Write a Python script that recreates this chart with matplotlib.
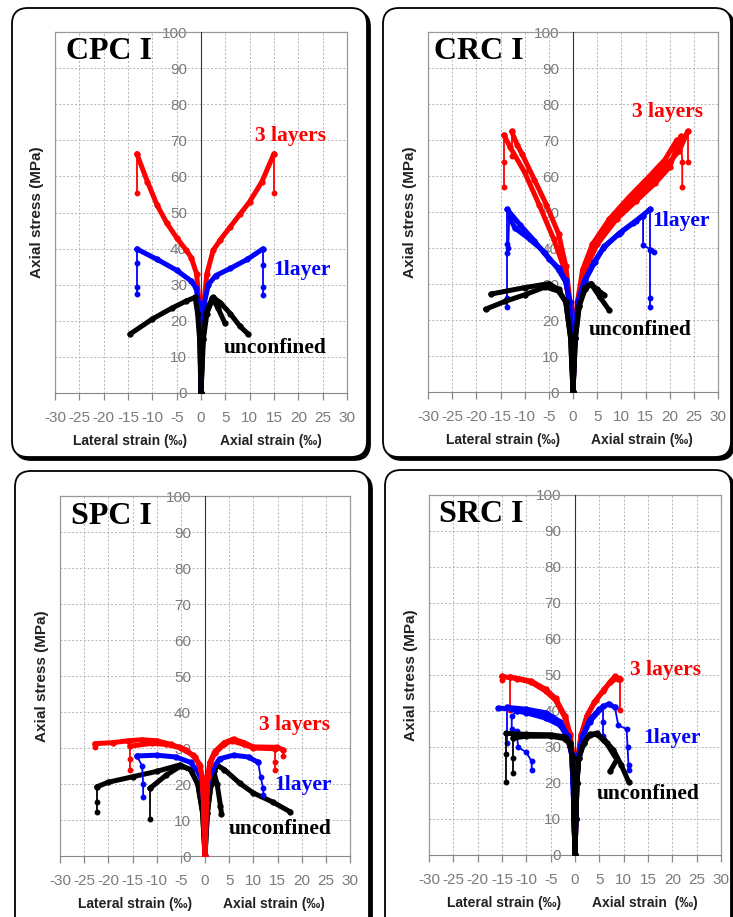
import matplotlib
matplotlib.use("Agg")
import matplotlib.pyplot as plt
from matplotlib.patches import FancyBboxPatch
from matplotlib.transforms import IdentityTransform

plt.rcParams.update({
    "font.family": "Liberation Sans",
    "axes.unicode_minus": False,
})

W, H = 733, 917

# ---------------------------------------------------------------------------
# Data (strain in per mille, stress in MPa)
# each curve: (x values, y values); *_TAILS are the thin post-peak drops
# ---------------------------------------------------------------------------

CPC_RED = [
    ([0, -0.2, -0.4, -0.9, -2, -3, -5, -7, -9, -11, -13.2],
     [0, 15, 25, 33, 37.5, 39.5, 43, 47, 52, 58.5, 66.3]),
    ([0, 0.3, 0.6, 1.2, 2.5, 4, 6, 8, 10, 12.5, 15],
     [0, 15, 25, 33, 39.5, 42.5, 46, 49.5, 53, 58.5, 66.3]),
]
CPC_RED_TAILS = [
    ([-13.2, -13.2], [66.3, 55.4]),
    ([15, 15], [66.3, 55.4]),
]
CPC_BLUE = [
    ([0, -0.2, -0.5, -1, -2, -5, -9, -13.2],
     [0, 15, 25, 29, 31, 34, 37, 39.9]),
    ([0, 0.3, 0.7, 1.5, 3, 6, 9.5, 12.7],
     [0, 15, 25, 30, 32.5, 34.5, 37, 39.9]),
]
CPC_BLUE_TAILS = [
    ([-13.2, -13.2, -13.2, -13.2], [39.9, 36, 29.5, 27.3]),
    ([12.7, 12.7, 12.7, 12.7], [39.9, 35.5, 29.5, 27.2]),
]
CPC_BLACK = [
    ([0, -0.3, -0.7, -1.2, -3, -6, -10, -14.6],
     [0, 15, 22, 26.5, 25.5, 23.5, 20.5, 16.3]),
    ([0, 0.5, 1.2, 2.5, 4, 6, 8, 9.7],
     [0, 15, 22, 26.5, 25, 22, 18.5, 16.3]),
    ([0, 0.4, 1, 2.3, 3.5, 4.9],
     [0, 15, 22, 26.3, 23.5, 19.4]),
]
CPC_BLACK_TAILS = []

CRC_RED = [
    ([0, -0.3, -0.8, -2, -4, -7, -10, -13, -14.3],
     [0, 15, 25, 35, 42.5, 52, 61, 68, 71.4]),
    ([0, -0.3, -0.6, -1.5, -3, -5.5, -8, -10.5, -11.5, -12.7],
     [0, 15, 25, 35, 44, 52, 59, 66, 68.5, 72.4]),
    ([0, 0.4, 1, 2.5, 5, 9, 13, 17, 20, 22.3],
     [0, 15, 25, 34, 41, 48, 53, 58, 62.5, 71]),
    ([0, 0.4, 1, 2.2, 4.5, 8, 12, 16, 20, 22, 23.7],
     [0, 15, 25, 34, 41, 48, 53.5, 58.5, 64, 67, 72.4]),
    ([0, 0.3, 0.9, 2, 4, 7.5, 11.5, 15.5, 19, 21.5],
     [0, 15, 25, 34, 41, 48, 54, 59.5, 64.5, 70]),
]
CRC_RED_TAILS = [
    ([-14.3, -14.3, -14.3], [71.4, 64, 57]),
    ([-12.7, -12.7], [72.4, 65.5]),
    ([22.3, 22.6, 22.6], [71, 64, 57]),
    ([23.7, 23.7], [72.4, 64]),
]
CRC_BLUE = [
    ([0, -0.3, -0.7, -1.5, -3, -5, -8, -11, -13.6],
     [0, 15, 25, 31, 34.5, 37, 42, 46.5, 50.7]),
    ([0, -0.3, -0.7, -1.5, -3, -6, -9, -12, -13.2],
     [0, 15, 25, 30.5, 34, 39, 42.5, 45.5, 48.7]),
    ([0, 0.4, 1, 2.5, 4.5, 6.5, 10, 13, 15.9],
     [0, 15, 25, 31, 36, 40.5, 44.5, 47.5, 50.7]),
    ([0, 0.4, 1, 2.4, 4.3, 6.3, 9.5, 12.5, 14.5],
     [0, 15, 25, 31, 36, 40, 44, 47, 49]),
]
CRC_BLUE_TAILS = [
    ([-13.6, -13.6, -13.6, -13.6, -13.6], [50.7, 41, 38.5, 26, 23.6]),
    ([-13.2, -13.4], [48.7, 40]),
    ([15.9, 15.9, 15.9, 15.9], [50.7, 39.5, 26, 23.6]),
    ([14.5, 14.5, 16.2, 16.8], [49, 40.8, 39.5, 39]),
]
CRC_BLACK = [
    ([0, -0.5, -1.5, -3, -5, -10, -17],
     [0, 15, 25, 28.5, 30.1, 29, 27.2]),
    ([0, -0.5, -1.5, -3, -5.7, -10, -14, -18.1],
     [0, 15, 25, 28, 29.2, 27, 25.2, 23]),
    ([0, 0.5, 1.3, 2.5, 3.7, 5.5, 7.5],
     [0, 15, 24, 29, 30.1, 26.5, 22.7]),
    ([0, 0.5, 1.3, 2.5, 3.7, 5, 6.4],
     [0, 15, 24, 28.5, 30, 28.5, 27]),
]
CRC_BLACK_TAILS = []

SPC_RED = [
    ([0, -0.3, -0.6, -1, -2, -4, -7, -10, -13, -16, -19, -22.8],
     [0, 15, 22, 25, 27.5, 29.5, 31, 32, 32.3, 32, 31.5, 31.2]),
    ([0, -0.3, -0.6, -1.2, -2.5, -5, -8, -11, -15.5],
     [0, 15, 22, 25.5, 28, 30, 31, 31.3, 30.5]),
    ([0, 0.3, 0.6, 1, 2, 4, 5.9, 8, 10, 14.8, 16.2],
     [0, 15, 22, 26, 29, 31.5, 32.5, 31.5, 30.3, 30.2, 29.5]),
    ([0, 0.3, 0.6, 1, 2, 4, 5.5, 8, 10, 14.5],
     [0, 15, 22, 25.5, 28.5, 31, 32, 31, 30, 29.8]),
]
SPC_RED_TAILS = [
    ([-22.8, -22.8], [31.2, 30.3]),
    ([-15.5, -15.5, -15.5], [30.5, 27, 24]),
    ([16.2, 16.2], [29.5, 27.8]),
    ([14.5, 14.5, 14.5], [29.8, 26, 24]),
]
SPC_BLUE = [
    ([0, -0.3, -0.7, -1.5, -3, -6, -10, -14.1],
     [0, 15, 21, 23.5, 26, 27.5, 28, 27.8]),
    ([0, 0.3, 0.7, 1.5, 3, 5.9, 9, 11],
     [0, 15, 21, 24, 27, 28, 27.5, 26]),
]
SPC_BLUE_TAILS = [
    ([-14.1, -13, -12.8, -12.8], [27.8, 25, 20, 16.5]),
    ([11, 11.5, 12, 12.1], [26, 22, 19, 16.9]),
]
SPC_BLACK = [
    ([0, -0.5, -1.5, -3, -5.2, -10, -15, -20, -22.4],
     [0, 12, 20, 24, 25.3, 23.5, 22, 20.5, 19.2]),
    ([0, -0.5, -1.5, -3, -5, -8, -11.4],
     [0, 12, 20, 24, 25, 22.5, 18.8]),
    ([0, 0.5, 1.3, 2.4, 4, 7.2, 10, 14, 17.6],
     [0, 12, 20, 25.3, 24, 20.2, 17.5, 15, 12.3]),
    ([0, 0.5, 1.2, 1.8, 2.5, 3.2, 3.4],
     [0, 12, 20, 23.5, 20, 14, 11.8]),
]
SPC_BLACK_TAILS = [
    ([-22.4, -22.4, -22.4], [19.2, 15, 12.3]),
    ([-11.4, -11.4], [18.8, 10.4]),
]

SRC_RED = [
    ([0, -0.2, -0.3, -0.5, -1, -2, -4, -6, -9, -12, -15.1],
     [0, 10, 20, 28, 33, 38, 43, 45.5, 48, 49, 49.6]),
    ([0, -0.2, -0.3, -0.5, -1, -2, -4, -6, -9, -13.4],
     [0, 10, 20, 28, 33.5, 38.5, 43.5, 46, 48.3, 49.5]),
    ([0, 0.2, 0.4, 0.7, 1.2, 2.4, 4, 5.8, 7.2, 8.2, 9.3],
     [0, 10, 20, 28, 33, 38.5, 42.5, 45.5, 48, 49.6, 49]),
    ([0, 0.2, 0.4, 0.7, 1.3, 2.6, 4.3, 6, 7.5, 8.8],
     [0, 10, 20, 28, 33.5, 39, 43, 46, 48.5, 49]),
]
SRC_RED_TAILS = [
    ([-15.1, -15.1], [49.6, 48.5]),
    ([-13.4, -13.4], [49.5, 40.3]),
    ([9.3, 9.3], [49, 40.3]),
]
SRC_BLUE = [
    ([0, -0.2, -0.4, -0.7, -1.5, -3, -6, -10, -13, -15.8],
     [0, 10, 20, 28, 33, 36.5, 39, 40.3, 40.6, 40.8]),
    ([0, -0.2, -0.4, -0.7, -1.5, -3, -6, -10, -12],
     [0, 10, 20, 28, 32.5, 36, 38, 39.5, 40]),
    ([0, -0.2, -0.4, -0.7, -1.5, -3, -6, -10, -13.9],
     [0, 10, 20, 28, 33, 37, 39.5, 40.5, 41]),
    ([0, 0.2, 0.4, 0.8, 1.5, 3, 5, 6.9, 8.2],
     [0, 10, 20, 28, 33, 37.5, 40.5, 42, 41]),
    ([0, 0.2, 0.4, 0.8, 1.5, 3, 5.8],
     [0, 10, 20, 28, 32.5, 37, 41.3]),
]
SRC_BLUE_TAILS = [
    ([-12, -13, -13, -12, -11.7, -10, -8.9, -8.9],
     [40, 38.5, 35, 34.5, 30, 28.5, 26, 23.7]),
    ([-13.9, -13.9], [41, 31]),
    ([8.2, 8.9, 10.6, 10.8, 11, 11], [41, 36, 35, 30, 25, 23.7]),
    ([5.8, 5.8, 5.8], [41.3, 37, 33]),
]
SRC_BLACK = [
    ([0, -0.2, -0.3, -0.5, -1, -2, -5, -10, -14.1],
     [0, 10, 20, 27, 31, 32.8, 33.4, 33.5, 33.8]),
    ([0, -0.2, -0.3, -0.5, -1, -2, -5, -10, -12.7],
     [0, 10, 20, 27, 30.5, 32.3, 33, 33, 32.5]),
    ([0, 0.2, 0.4, 0.8, 1.8, 3, 4.5, 6, 7.9, 9.5, 11],
     [0, 10, 20, 27, 31, 33.5, 33.8, 32, 29.2, 25, 20.4]),
    ([0, 0.2, 0.4, 0.8, 1.8, 3, 4.5, 6.5, 8.6, 7.2],
     [0, 10, 20, 27, 31, 33.3, 33.5, 31, 26.5, 23.2]),
]
SRC_BLACK_TAILS = [
    ([-14.1, -14.1, -14.1], [33.8, 28, 20.4]),
    ([-12.7, -12.7, -12.7], [32.5, 27, 22.8]),
]

TITLES = ["CPC I", "CRC I", "SPC I", "SRC I"]
SERIES_LABELS = ["3 layers", "1layer", "unconfined"]
X_TICKS = list(range(-30, 31, 5))
Y_TICKS = list(range(0, 101, 10))

COLORS = {"red": "#ff0000", "blue": "#0000ff", "black": "#000000"}

# ---------------------------------------------------------------------------
# Layout (pixel boxes in image coords: left, top, right, bottom)
# ---------------------------------------------------------------------------

PANEL_BOXES = [(12, 8, 367, 457), (383, 8, 731, 457),
               (15, 471, 369, 935), (385, 470, 731, 935)]
AX_BOXES = [(55, 32, 347, 393), (428, 32, 718, 392),
            (60, 496, 350, 856), (429, 495, 721, 855)]
# label positions (data coords) for 3 layers / 1layer / unconfined / title
LABEL_POS = [
    [(18.3, 71.1), (20.7, 34.2), (15.2, 12.5), (-19.0, 94.6)],
    [(19.5, 77.9), (22.3, 47.5), (14.0, 17.3), (-19.4, 94.6)],
    [(18.6, 36.4), (20.3, 19.7), (15.5, 7.4), (-19.3, 94.2)],
    [(18.5, 51.4), (19.9, 32.5), (15.1, 16.9), (-19.2, 94.5)],
]
AXIAL_LABELS = ["Axial strain (‰)", "Axial strain (‰)",
                "Axial strain (‰)", "Axial strain  (‰)"]

PANELS = [
    (CPC_RED, CPC_RED_TAILS, CPC_BLUE, CPC_BLUE_TAILS, CPC_BLACK, CPC_BLACK_TAILS),
    (CRC_RED, CRC_RED_TAILS, CRC_BLUE, CRC_BLUE_TAILS, CRC_BLACK, CRC_BLACK_TAILS),
    (SPC_RED, SPC_RED_TAILS, SPC_BLUE, SPC_BLUE_TAILS, SPC_BLACK, SPC_BLACK_TAILS),
    (SRC_RED, SRC_RED_TAILS, SRC_BLUE, SRC_BLUE_TAILS, SRC_BLACK, SRC_BLACK_TAILS),
]
# draw order per panel (later = on top)
DRAW_ORDER = [["red", "blue", "black"], ["red", "blue", "black"],
              ["black", "blue", "red"], ["red", "blue", "black"]]


def px_rect(l, t, r, b):
    return [l / W, 1 - b / H, (r - l) / W, (b - t) / H]


def draw_box(fig, box):
    x0, y0, x1, y1 = box
    for dx, dy, fc in [(3, 3, "black"), (0, 0, "white")]:
        p = FancyBboxPatch((x0 + dx, H - y1 - dy), x1 - x0, y1 - y0,
                           boxstyle="round,pad=0,rounding_size=16",
                           transform=IdentityTransform(), fc=fc, ec="black",
                           lw=1.3, zorder=-5)
        fig.add_artist(p)


def setup_axes(ax, axial_label):
    ax.set_xlim(-30, 30)
    ax.set_ylim(0, 100)
    ax.set_xticks(X_TICKS)
    ax.set_yticks(Y_TICKS)
    ax.grid(True, ls=(0, (2, 2)), color="#b5b5b5", lw=0.7)
    ax.set_axisbelow(True)
    for s in ("top", "right"):
        ax.spines[s].set_visible(False)
    ax.spines["left"].set_position(("data", 0))
    ax.spines["left"].set_color("#333333")
    ax.spines["left"].set_zorder(1.5)
    ax.spines["bottom"].set_color("#888888")
    for xv in (-30, 30):
        ax.axvline(xv, color="#999999", lw=0.9, clip_on=False, zorder=1)
    ax.axhline(100, color="#999999", lw=0.9, clip_on=False, zorder=1)
    ax.tick_params(axis="y", length=0, pad=10, labelcolor="#7a7a7a", labelsize=11)
    ax.tick_params(axis="x", direction="out", length=5, width=0.9, color="#888888",
                   pad=8, labelcolor="#7a7a7a", labelsize=11)
    tr = ax.get_xaxis_transform()
    ax.text(-14.5, -0.133, "Lateral strain (‰)", transform=tr, ha="center",
            va="center", fontsize=10, fontweight="bold", color="#222222")
    ax.text(14.3, -0.133, axial_label, transform=tr, ha="center",
            va="center", fontsize=10, fontweight="bold", color="#222222")
    ax.text(-0.062, 0.5, "Axial stress (MPa)", transform=ax.transAxes,
            rotation=90, ha="center", va="center", fontsize=11,
            fontweight="bold", color="#222222")


fig = plt.figure(figsize=(W / 100, H / 100), dpi=100)

for i in range(4):
    draw_box(fig, PANEL_BOXES[i])
    ax = fig.add_axes(px_rect(*AX_BOXES[i]))
    setup_axes(ax, AXIAL_LABELS[i])

    red, red_t, blue, blue_t, black, black_t = PANELS[i]
    groups = {"red": (red, red_t), "blue": (blue, blue_t), "black": (black, black_t)}
    for k, name in enumerate(DRAW_ORDER[i]):
        curves, tails = groups[name]
        z = 3 + k
        for xs, ys in curves:
            ax.plot(xs, ys, color=COLORS[name], lw=3.6, marker="o", ms=3.5,
                    solid_capstyle="round", solid_joinstyle="round", zorder=z)
        for xs, ys in tails:
            ax.plot(xs, ys, color=COLORS[name], lw=1.3, marker="o", ms=3.2,
                    zorder=z)

    pos = LABEL_POS[i]
    for (lx, ly), lab, c in zip(pos[:3], SERIES_LABELS, ["red", "blue", "black"]):
        ax.text(lx, ly, lab, color=COLORS[c], fontsize=15.5, fontweight="bold",
                family="Liberation Serif", ha="center", va="center", zorder=10)
    tx, ty = pos[3]
    ax.text(tx, ty, TITLES[i], fontsize=23, fontweight="bold",
            family="Liberation Serif", ha="center", va="center", zorder=10)

fig.savefig("out.png", dpi=100)
